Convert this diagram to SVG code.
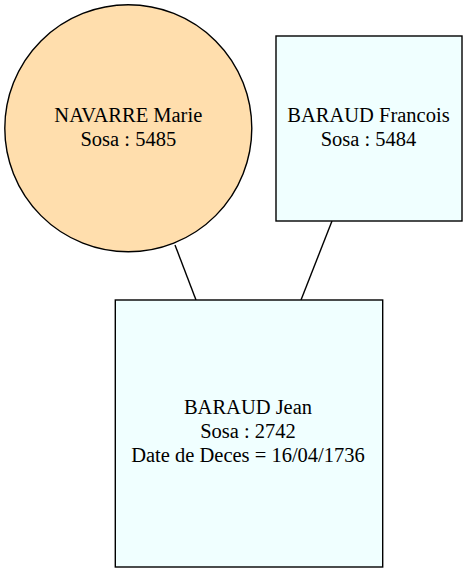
<svg xmlns="http://www.w3.org/2000/svg" width="467" height="572" viewBox="0 0 467 572">
<style>
.n{stroke:#000;stroke-width:1.4}
.p{fill:#f0ffff}
.f{fill:#ffdead}
text{font-family:"Liberation Serif","Times New Roman",serif;font-size:20.5px;text-anchor:middle;fill:#000}
.e{stroke:#000;stroke-width:1.4;fill:none}
</style>
<rect width="467" height="572" fill="#fff"/>
<g id="edges">
<line class="e" x1="175" y1="245" x2="196" y2="300"/>
<line class="e" x1="332" y1="221" x2="301" y2="300"/>
</g>
<g id="node_navarre_marie">
<circle class="n f" cx="128.3" cy="128.3" r="123.5"/>
<text x="128.3" y="122">NAVARRE Marie</text>
<text x="128.3" y="146">Sosa : 5485</text>
</g>
<g id="node_baraud_francois">
<rect class="n p" x="276" y="36" width="186" height="185"/>
<text x="368.5" y="122">BARAUD Francois</text>
<text x="368.5" y="146">Sosa : 5484</text>
</g>
<g id="node_baraud_jean">
<rect class="n p" x="115.3" y="300" width="267.4" height="267"/>
<text x="248" y="414">BARAUD Jean</text>
<text x="248" y="438">Sosa : 2742</text>
<text x="248" y="462">Date de Deces = 16/04/1736</text>
</g>
</svg>
